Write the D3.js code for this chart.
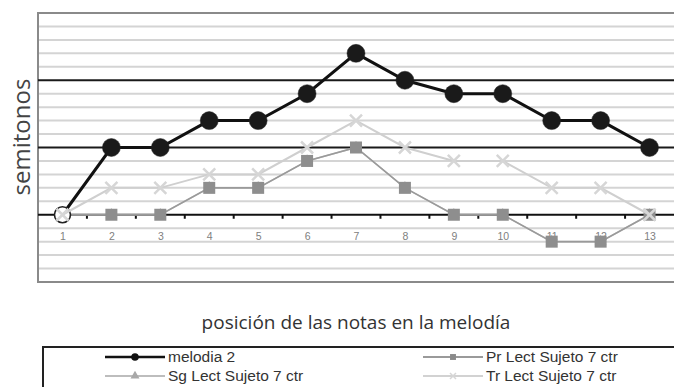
<!DOCTYPE html>
<html>
<head>
<meta charset="utf-8">
<script src="https://cdn.jsdelivr.net/npm/d3@7"></script>
<style>
  html, body { margin: 0; padding: 0; background: #fff; }
  svg { display: block; }
</style>
</head>
<body>
<svg id="chart" width="674" height="387"></svg>
<script>
// Note positions in the melody
const positions = ["1","2","3","4","5","6","7","8","9","10","11","12","13"];

// Semitone values per series
const melodia2 = [0, 5, 5, 7, 7, 9, 12, 10, 9, 9, 7, 7, 5];
const prLect   = [0, 0, 0, 2, 2, 4, 5, 2, 0, 0, -2, -2, 0];
const sgLect   = [0, 0, 0, 2, 2, 4, 5, 2, 0, 0, -2, -2, 0];
const trLect   = [0, 2, 2, 3, 3, 5, 7, 5, 4, 4, 2, 2, 0];

const seriesNames = ["melodia 2", "Sg Lect Sujeto 7 ctr", "Pr Lect Sujeto 7 ctr", "Tr Lect Sujeto  7 ctr"];
const yMajorTicks = [0, 5, 10];

const svg = d3.select("#chart");
const plot = { left: 38, right: 674, top: 13, bottom: 282 };

const x = d3.scalePoint().domain(positions).range([plot.left, plot.right]).padding(0.5);
const y = d3.scaleLinear().domain([-5, 15]).range([plot.bottom, plot.top]);

// minor gridlines (every semitone)
svg.append("g").selectAll("line")
  .data(d3.range(-4, 15).filter(v => !yMajorTicks.includes(v)))
  .join("line")
  .attr("x1", plot.left).attr("x2", plot.right)
  .attr("y1", d => y(d)).attr("y2", d => y(d))
  .attr("stroke", "#d4d4d4").attr("stroke-width", 2);

// plot frame
svg.append("rect")
  .attr("x", plot.left).attr("y", plot.top)
  .attr("width", plot.right - plot.left + 4).attr("height", plot.bottom - plot.top)
  .attr("fill", "none").attr("stroke", "#8a8a8a").attr("stroke-width", 2);

// major gridlines
svg.append("g").selectAll("line")
  .data(yMajorTicks.filter(v => v !== 0))
  .join("line")
  .attr("x1", plot.left).attr("x2", plot.right)
  .attr("y1", d => y(d)).attr("y2", d => y(d))
  .attr("stroke", "#1a1a1a").attr("stroke-width", 2);

// category axis on the zero line
const xAxis = d3.axisBottom(x).tickSize(0).tickPadding(0);
const axisG = svg.append("g").attr("transform", `translate(0,${y(0)})`).call(xAxis);
axisG.select(".domain").remove();
axisG.selectAll("text")
  .attr("y", 25)
  .attr("dy", 0)
  .attr("font-family", "Liberation Sans, Arial, sans-serif")
  .attr("font-size", 10.5)
  .attr("fill", "#808080");
svg.append("line")
  .attr("x1", plot.left).attr("x2", plot.right)
  .attr("y1", y(0)).attr("y2", y(0))
  .attr("stroke", "#111").attr("stroke-width", 2.2);
// tick marks between categories
const step = x.step();
svg.append("g").selectAll("line")
  .data(positions.slice(1))
  .join("line")
  .attr("x1", d => x(d) - step / 2).attr("x2", d => x(d) - step / 2)
  .attr("y1", y(0)).attr("y2", y(0) + 4)
  .attr("stroke", "#111").attr("stroke-width", 2);

const line = d3.line().x((d, i) => x(positions[i])).y(d => y(d));

// Sg Lect (light grey, triangles)
svg.append("path").datum(sgLect).attr("d", line)
  .attr("fill", "none").attr("stroke", "#c4c4c4").attr("stroke-width", 1.5);
svg.append("g").selectAll("path").data(sgLect).join("path")
  .attr("d", d3.symbol(d3.symbolTriangle, 60)())
  .attr("transform", (d, i) => `translate(${x(positions[i])},${y(d)})`)
  .attr("fill", "#b0b0b0");

// Pr Lect (grey, squares)
svg.append("path").datum(prLect).attr("d", line)
  .attr("fill", "none").attr("stroke", "#9a9a9a").attr("stroke-width", 1.6);
svg.append("g").selectAll("rect").data(prLect).join("rect")
  .attr("x", (d, i) => x(positions[i]) - 6)
  .attr("y", d => y(d) - 6)
  .attr("width", 12).attr("height", 12)
  .attr("fill", "#8e8e8e");

// melodia 2 (black, circles)
svg.append("path").datum(melodia2).attr("d", line)
  .attr("fill", "none").attr("stroke", "#111").attr("stroke-width", 3);
svg.append("g").selectAll("circle").data(melodia2).join("circle")
  .attr("cx", (d, i) => x(positions[i]))
  .attr("cy", d => y(d))
  .attr("r", (d, i) => i === 0 ? 8 : 9)
  .attr("fill", (d, i) => i === 0 ? "#fff" : "#1a1a1a")
  .attr("stroke", "#222").attr("stroke-width", (d, i) => i === 0 ? 1.6 : 0.5);

// Tr Lect (very light grey, crosses)
svg.append("path").datum(trLect).attr("d", line)
  .attr("fill", "none").attr("stroke", "#cfcfcf").attr("stroke-width", 2);
svg.append("g").selectAll("path").data(trLect).join("path")
  .attr("d", "M-6,-6L6,6M-6,6L6,-6")
  .attr("transform", (d, i) => `translate(${x(positions[i])},${y(d)})`)
  .attr("stroke", "#d6d6d6").attr("stroke-width", 2.5).attr("fill", "none");

// axis titles
svg.append("text")
  .attr("transform", `translate(30,137) rotate(-90)`)
  .attr("text-anchor", "middle")
  .attr("font-family", "Open Sans, sans-serif")
  .attr("font-size", 24)
  .attr("fill", "#444")
  .text("semitonos");

svg.append("text")
  .attr("x", 356).attr("y", 329)
  .attr("text-anchor", "middle")
  .attr("font-family", "Open Sans, sans-serif")
  .attr("font-size", 19)
  .attr("fill", "#333")
  .text("posición de las notas en la melodía");

// legend
const legend = svg.append("g");
legend.append("rect")
  .attr("x", 43).attr("y", 347).attr("width", 640).attr("height", 60)
  .attr("fill", "#fff").attr("stroke", "#222").attr("stroke-width", 2);

const legendItems = [
  { name: seriesNames[0], lx: 105, ly: 357, stroke: "#111", sw: 2.5, marker: "circle", mfill: "#111" },
  { name: seriesNames[1], lx: 105, ly: 376, stroke: "#bdbdbd", sw: 2, marker: "triangle", mfill: "#a8a8a8" },
  { name: seriesNames[2], lx: 423, ly: 357, stroke: "#9a9a9a", sw: 2, marker: "square", mfill: "#8a8a8a" },
  { name: seriesNames[3], lx: 423, ly: 376, stroke: "#d2d2d2", sw: 2, marker: "cross", mfill: "#d6d6d6" }
];
const li = legend.selectAll("g.item").data(legendItems).join("g").attr("class", "item");
li.append("line")
  .attr("x1", d => d.lx).attr("x2", d => d.lx + 60)
  .attr("y1", d => d.ly).attr("y2", d => d.ly)
  .attr("stroke", d => d.stroke).attr("stroke-width", d => d.sw);
li.append("path")
  .attr("d", d => {
    if (d.marker === "circle") return d3.symbol(d3.symbolCircle, 45)();
    if (d.marker === "triangle") return d3.symbol(d3.symbolTriangle, 35)();
    if (d.marker === "square") return d3.symbol(d3.symbolSquare, 35)();
    return "M-3,-3L3,3M-3,3L3,-3";
  })
  .attr("transform", d => `translate(${d.lx + 30},${d.ly})`)
  .attr("fill", d => d.marker === "cross" ? "none" : d.mfill)
  .attr("stroke", d => d.marker === "cross" ? d.mfill : "none")
  .attr("stroke-width", 1.5);
li.append("text")
  .attr("x", d => d.lx + 63).attr("y", d => d.ly + 5)
  .attr("font-family", "Liberation Sans, Arial, sans-serif")
  .attr("font-size", 15.5)
  .attr("fill", "#333")
  .text(d => d.name);
</script>
</body>
</html>
